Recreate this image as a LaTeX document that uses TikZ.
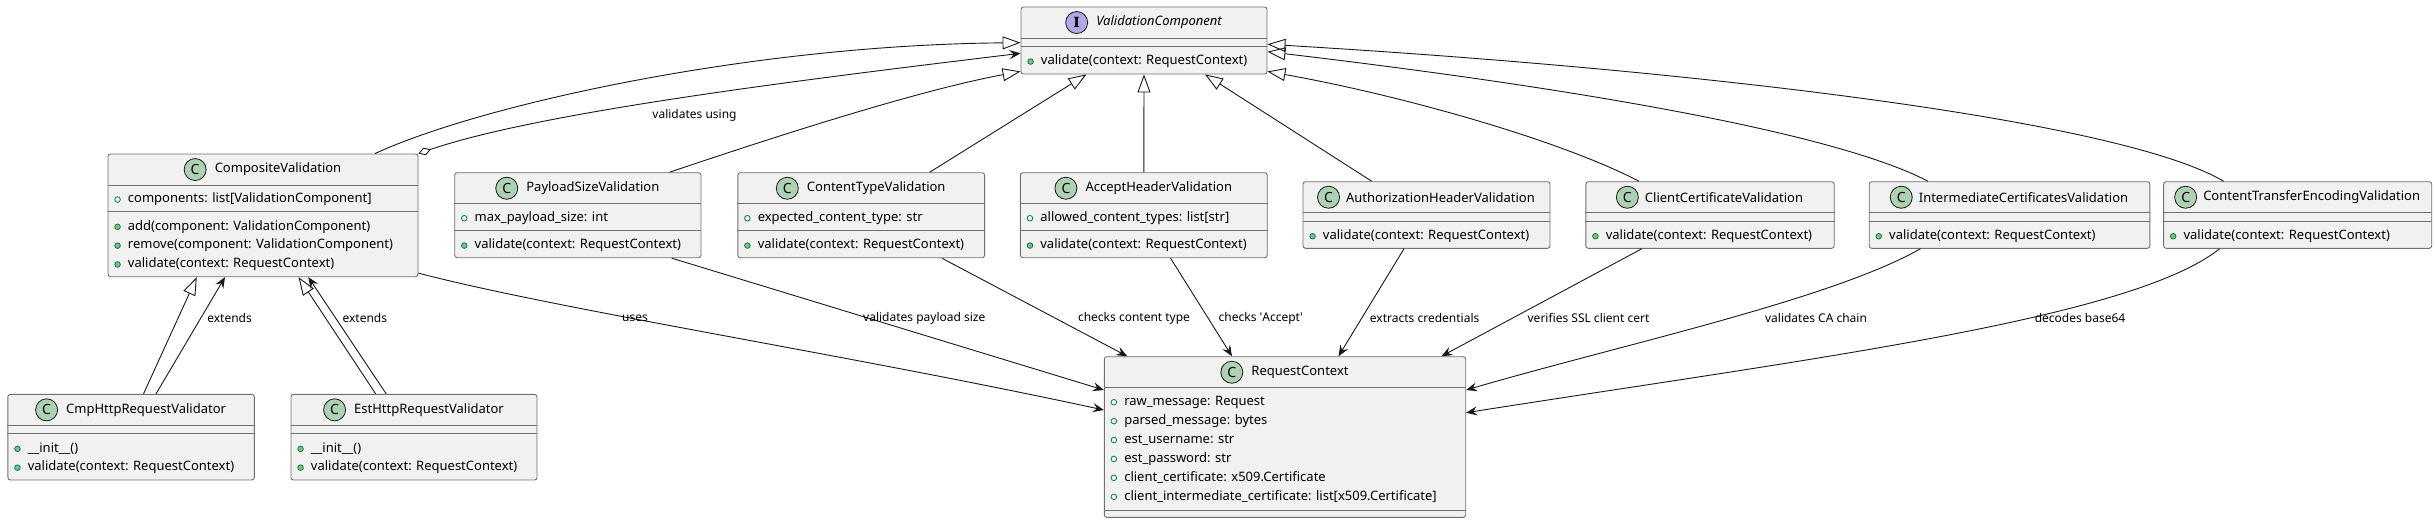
\documentclass[tikz,border=0pt]{standalone}
\usepackage{fontspec}
\setmainfont{Noto Sans}
\newfontfamily\iconserif{DejaVu Serif}
\usetikzlibrary{arrows.meta,positioning}
\definecolor{boxgray}{HTML}{F1F1F1}
\definecolor{boxline}{HTML}{707070}
\definecolor{linedark}{HTML}{181818}
\definecolor{classgreen}{HTML}{ADD1B2}
\definecolor{ifacepurple}{HTML}{B4A7E5}
\definecolor{markgreen}{HTML}{038048}
\definecolor{markfill}{HTML}{84BE84}

\begin{document}
\begin{tikzpicture}[x=1pt,y=-1pt,
  cls/.style={draw=boxline, line width=0.9pt, fill=boxgray, rounded corners=2.5pt, inner sep=0pt},
  sep/.style={draw=boxline, line width=0.9pt},
  ttl/.style={inner sep=0pt, font=\fontsize{13}{15}\selectfont},
  cicon/.style={circle, draw=linedark, line width=0.8pt, fill=classgreen, minimum size=22pt, inner sep=0pt, font=\fontsize{14}{15}\selectfont\bfseries},
  iicon/.style={cicon, fill=ifacepurple, font=\fontsize{14}{15}\selectfont\iconserif\bfseries},
  mem/.style={anchor=west, inner sep=0pt, text height=9.5pt, text depth=3pt, font=\fontsize{13}{15}\selectfont},
  fieldmark/.style={draw=markgreen, line width=0.8pt},
  methmark/.style={draw=markgreen, fill=markfill, line width=0.8pt},
  conn/.style={draw=linedark, line width=0.9pt},
  gen/.style={conn, -{Triangle[open, length=18pt, width=13pt]}},
  dep/.style={conn, -{Stealth[length=11pt, width=9pt, inset=4pt]}},
  agg/.style={conn, {Diamond[open, length=13pt, width=8pt]}-{Stealth[length=11pt, width=9pt, inset=4pt]}},
  lbl/.style={inner sep=0pt, font=\fontsize{12}{14}\selectfont}]
\useasboundingbox (0,0) rectangle (2435,524);

% interface
\node[cls, minimum width=246pt, minimum height=67pt] (vc) at (1144,40.5) {};
\node[ttl, font=\fontsize{13}{15}\selectfont\itshape] (vcT) at ([xshift=15pt,yshift=-16pt]vc.north) {ValidationComponent};
\node[iicon, left=8pt of vcT] (vcI) {I};
\draw[sep] ([yshift=-31.5pt]vc.north west) -- ([yshift=-31.5pt]vc.north east);
\draw[sep] ([yshift=-40pt]vc.north west) -- ([yshift=-40pt]vc.north east);
\draw[methmark] ([xshift=10pt,yshift=-55pt]vc.north west) circle (2.8) +(10,0) node[mem] (vcM1) {validate(context: RequestContext)};

% composite
\node[cls, minimum width=310pt, minimum height=122.7pt] (comp) at (263,215.35) {};
\node[ttl] (compT) at ([xshift=15pt,yshift=-16pt]comp.north) {CompositeValidation};
\node[cicon, left=8pt of compT] (compI) {C};
\draw[sep] ([yshift=-31.5pt]comp.north west) -- ([yshift=-31.5pt]comp.north east);
\draw[sep] ([yshift=-58.3pt]comp.north west) -- ([yshift=-58.3pt]comp.north east);
\draw[fieldmark] ([xshift=10pt,yshift=-46pt]comp.north west) circle (2.8) +(10,0) node[mem] (compA1) {components: list[ValidationComponent]};
\draw[methmark] ([xshift=10pt,yshift=-73.3pt]comp.north west) circle (2.8) +(10,0) node[mem] (compM1) {add(component: ValidationComponent)};
\draw[methmark] ([xshift=10pt,yshift=-92.1pt]comp.north west) circle (2.8) +(10,0) node[mem] (compM2) {remove(component: ValidationComponent)};
\draw[methmark] ([xshift=10pt,yshift=-110.9pt]comp.north west) circle (2.8) +(10,0) node[mem] (compM3) {validate(context: RequestContext)};

% payload size
\node[cls, minimum width=246.3pt, minimum height=85pt] (pay) at (577.85,215.2) {};
\node[ttl] (payT) at ([xshift=15pt,yshift=-16pt]pay.north) {PayloadSizeValidation};
\node[cicon, left=8pt of payT] (payI) {C};
\draw[sep] ([yshift=-31.5pt]pay.north west) -- ([yshift=-31.5pt]pay.north east);
\draw[sep] ([yshift=-58.3pt]pay.north west) -- ([yshift=-58.3pt]pay.north east);
\draw[fieldmark] ([xshift=10pt,yshift=-46pt]pay.north west) circle (2.8) +(10,0) node[mem] (payA1) {max\_payload\_size: int};
\draw[methmark] ([xshift=10pt,yshift=-73.3pt]pay.north west) circle (2.8) +(10,0) node[mem] (payM1) {validate(context: RequestContext)};

% content type
\node[cls, minimum width=246.8pt, minimum height=85pt] (ctype) at (861.2,215.2) {};
\node[ttl] (ctypeT) at ([xshift=15pt,yshift=-16pt]ctype.north) {ContentTypeValidation};
\node[cicon, left=8pt of ctypeT] (ctypeI) {C};
\draw[sep] ([yshift=-31.5pt]ctype.north west) -- ([yshift=-31.5pt]ctype.north east);
\draw[sep] ([yshift=-58.3pt]ctype.north west) -- ([yshift=-58.3pt]ctype.north east);
\draw[fieldmark] ([xshift=10pt,yshift=-46pt]ctype.north west) circle (2.8) +(10,0) node[mem] (ctypeA1) {expected\_content\_type: str};
\draw[methmark] ([xshift=10pt,yshift=-73.3pt]ctype.north west) circle (2.8) +(10,0) node[mem] (ctypeM1) {validate(context: RequestContext)};

% accept header
\node[cls, minimum width=246.8pt, minimum height=85pt] (accept) at (1143.8,215.2) {};
\node[ttl] (acceptT) at ([xshift=15pt,yshift=-16pt]accept.north) {AcceptHeaderValidation};
\node[cicon, left=8pt of acceptT] (acceptI) {C};
\draw[sep] ([yshift=-31.5pt]accept.north west) -- ([yshift=-31.5pt]accept.north east);
\draw[sep] ([yshift=-58.3pt]accept.north west) -- ([yshift=-58.3pt]accept.north east);
\draw[fieldmark] ([xshift=10pt,yshift=-46pt]accept.north west) circle (2.8) +(10,0) node[mem] (acceptA1) {allowed\_content\_types: list[str]};
\draw[methmark] ([xshift=10pt,yshift=-73.3pt]accept.north west) circle (2.8) +(10,0) node[mem] (acceptM1) {validate(context: RequestContext)};

% authorization header
\node[cls, minimum width=247pt, minimum height=66.6pt] (auth) at (1426.5,215) {};
\node[ttl] (authT) at ([xshift=14pt,yshift=-16pt]auth.north) {AuthorizationHeaderValidation};
\node[cicon, left=6pt of authT] (authI) {C};
\draw[sep] ([yshift=-31.5pt]auth.north west) -- ([yshift=-31.5pt]auth.north east);
\draw[sep] ([yshift=-40pt]auth.north west) -- ([yshift=-40pt]auth.north east);
\draw[methmark] ([xshift=10pt,yshift=-55pt]auth.north west) circle (2.8) +(10,0) node[mem] (authM1) {validate(context: RequestContext)};

% client certificate
\node[cls, minimum width=248.4pt, minimum height=66.6pt] (ccert) at (1710,215) {};
\node[ttl] (ccertT) at ([xshift=14pt,yshift=-16pt]ccert.north) {ClientCertificateValidation};
\node[cicon, left=6pt of ccertT] (ccertI) {C};
\draw[sep] ([yshift=-31.5pt]ccert.north west) -- ([yshift=-31.5pt]ccert.north east);
\draw[sep] ([yshift=-40pt]ccert.north west) -- ([yshift=-40pt]ccert.north east);
\draw[methmark] ([xshift=10pt,yshift=-55pt]ccert.north west) circle (2.8) +(10,0) node[mem] (ccertM1) {validate(context: RequestContext)};

% intermediate certificates
\node[cls, minimum width=280.6pt, minimum height=66.6pt] (inter) at (2009.5,215) {};
\node[ttl] (interT) at ([xshift=14pt,yshift=-16pt]inter.north) {IntermediateCertificatesValidation};
\node[cicon, left=6pt of interT] (interI) {C};
\draw[sep] ([yshift=-31.5pt]inter.north west) -- ([yshift=-31.5pt]inter.north east);
\draw[sep] ([yshift=-40pt]inter.north west) -- ([yshift=-40pt]inter.north east);
\draw[methmark] ([xshift=10pt,yshift=-55pt]inter.north west) circle (2.8) +(10,0) node[mem] (interM1) {validate(context: RequestContext)};

% content transfer encoding
\node[cls, minimum width=268.1pt, minimum height=66.6pt] (cte) at (2297.65,215) {};
\node[ttl] (cteT) at ([xshift=14pt,yshift=-16pt]cte.north) {ContentTransferEncodingValidation};
\node[cicon, left=6pt of cteT] (cteI) {C};
\draw[sep] ([yshift=-31.5pt]cte.north west) -- ([yshift=-31.5pt]cte.north east);
\draw[sep] ([yshift=-40pt]cte.north west) -- ([yshift=-40pt]cte.north east);
\draw[methmark] ([xshift=10pt,yshift=-55pt]cte.north west) circle (2.8) +(10,0) node[mem] (cteM1) {validate(context: RequestContext)};

% cmp validator
\node[cls, minimum width=246.4pt, minimum height=85.7pt] (cmp) at (131.1,437.15) {};
\node[ttl] (cmpT) at ([xshift=15pt,yshift=-16pt]cmp.north) {CmpHttpRequestValidator};
\node[cicon, left=8pt of cmpT] (cmpI) {C};
\draw[sep] ([yshift=-31.5pt]cmp.north west) -- ([yshift=-31.5pt]cmp.north east);
\draw[sep] ([yshift=-40pt]cmp.north west) -- ([yshift=-40pt]cmp.north east);
\draw[methmark] ([xshift=10pt,yshift=-55pt]cmp.north west) circle (2.8) +(10,0) node[mem] (cmpM1) {\_\_init\_\_()};
\draw[methmark] ([xshift=10pt,yshift=-73.8pt]cmp.north west) circle (2.8) +(10,0) node[mem] (cmpM2) {validate(context: RequestContext)};

% est validator
\node[cls, minimum width=246pt, minimum height=85.7pt] (est) at (414,437.15) {};
\node[ttl] (estT) at ([xshift=15pt,yshift=-16pt]est.north) {EstHttpRequestValidator};
\node[cicon, left=8pt of estT] (estI) {C};
\draw[sep] ([yshift=-31.5pt]est.north west) -- ([yshift=-31.5pt]est.north east);
\draw[sep] ([yshift=-40pt]est.north west) -- ([yshift=-40pt]est.north east);
\draw[methmark] ([xshift=10pt,yshift=-55pt]est.north west) circle (2.8) +(10,0) node[mem] (estM1) {\_\_init\_\_()};
\draw[methmark] ([xshift=10pt,yshift=-73.8pt]est.north west) circle (2.8) +(10,0) node[mem] (estM2) {validate(context: RequestContext)};

% request context
\node[cls, minimum width=361.4pt, minimum height=160.6pt] (rc) at (1285,437) {};
\node[ttl] (rcT) at ([xshift=15pt,yshift=-16pt]rc.north) {RequestContext};
\node[cicon, left=8pt of rcT] (rcI) {C};
\draw[sep] ([yshift=-31.5pt]rc.north west) -- ([yshift=-31.5pt]rc.north east);
\draw[sep] ([yshift=-154pt]rc.north west) -- ([yshift=-154pt]rc.north east);
\draw[fieldmark] ([xshift=10pt,yshift=-46pt]rc.north west) circle (2.8) +(10,0) node[mem] (rcA1) {raw\_message: Request};
\draw[fieldmark] ([xshift=10pt,yshift=-64.9pt]rc.north west) circle (2.8) +(10,0) node[mem] (rcA2) {parsed\_message: bytes};
\draw[fieldmark] ([xshift=10pt,yshift=-83.8pt]rc.north west) circle (2.8) +(10,0) node[mem] (rcA3) {est\_username: str};
\draw[fieldmark] ([xshift=10pt,yshift=-102.7pt]rc.north west) circle (2.8) +(10,0) node[mem] (rcA4) {est\_password: str};
\draw[fieldmark] ([xshift=10pt,yshift=-121.6pt]rc.north west) circle (2.8) +(10,0) node[mem] (rcA5) {client\_certificate: x509.Certificate};
\draw[fieldmark] ([xshift=10pt,yshift=-140.5pt]rc.north west) circle (2.8) +(10,0) node[mem] (rcA6) {client\_intermediate\_certificate: list[x509.Certificate]};

% realizations of the interface
\draw[gen] ([xshift=112pt]comp.north) .. controls (480,105) and (750,45) .. ([yshift=-2.2pt]vc.west);
\draw[agg] (comp.north east) .. controls (540,112) and (800,80) .. ([yshift=-12.8pt]vc.west);
\draw[gen] ([xshift=91.6pt]pay.north) .. controls (780,135) and (920,90) .. ([yshift=3pt]vc.south west);
\draw[gen] ([xshift=68.4pt]ctype.north) -- ([xshift=-57.5pt]vc.south);
\draw[gen] (accept.north) -- (vc.south);
\draw[gen] ([xshift=-54.8pt]auth.north) -- ([xshift=61pt]vc.south);
\draw[gen] ([xshift=-71pt]ccert.north) .. controls (1560,140) and (1400,95) .. ([yshift=3pt]vc.south east);
\draw[gen] ([xshift=-81.5pt]inter.north) .. controls (1830,130) and (1550,85) .. ([yshift=-11.2pt]vc.east);
\draw[gen] ([xshift=-74pt]cte.north) .. controls (2120,120) and (1700,70) .. ([yshift=-3.8pt]vc.east);

% subclasses of the composite
\draw[gen] ([xshift=12.4pt]cmp.north) -- ([xshift=-66.2pt]comp.south);
\draw[dep] ([xshift=24.9pt]cmp.north) -- ([xshift=-38pt]comp.south);
\draw[gen] ([xshift=-38.3pt]est.north) -- ([xshift=35.5pt]comp.south);
\draw[dep] ([xshift=-27.8pt]est.north) -- ([xshift=45.3pt]comp.south);

% uses of the request context
\draw[dep] ([yshift=4pt]comp.south east) .. controls (560,310) and (850,355) .. ([yshift=27pt]rc.west);
\draw[dep] ([xshift=93.8pt]pay.south) -- ([yshift=47pt]rc.west);
\draw[dep] ([xshift=80.6pt]ctype.south) -- ([xshift=23.4pt]rc.north west);
\draw[dep] ([xshift=26.7pt]accept.south) -- ([xshift=-53pt]rc.north);
\draw[dep] ([xshift=-22.5pt]auth.south) -- ([xshift=53.5pt]rc.north);
\draw[dep] ([xshift=-68.2pt]ccert.south) -- ([xshift=-24.7pt]rc.north east);
\draw[dep] ([xshift=-89pt]inter.south) .. controls (1830,300) and (1620,345) .. ([yshift=47pt]rc.east);
\draw[dep] ([xshift=-78pt]cte.south) .. controls (2130,320) and (1800,360) .. ([yshift=24.3pt]rc.east);

% labels
\node[lbl] (lValidates) at (694.5,115) {validates using};
\node[lbl] (lCmpExt) at (229.6,318) {extends};
\node[lbl] (lEstExt) at (364.8,318) {extends};
\node[lbl] (lUses) at (635,318) {uses};
\node[lbl] (lPayload) at (924.3,318) {validates payload size};
\node[lbl] (lCtype) at (1134,318) {checks content type};
\node[lbl] (lAccept) at (1260.7,318) {checks \textquotesingle Accept\textquotesingle};
\node[lbl] (lAuth) at (1424.6,318) {extracts credentials};
\node[lbl] (lCcert) at (1588.5,318) {verifies SSL client cert};
\node[lbl] (lInter) at (1816,318) {validates CA chain};
\node[lbl] (lCte) at (2080,318) {decodes base64};
\end{tikzpicture}
\end{document}
